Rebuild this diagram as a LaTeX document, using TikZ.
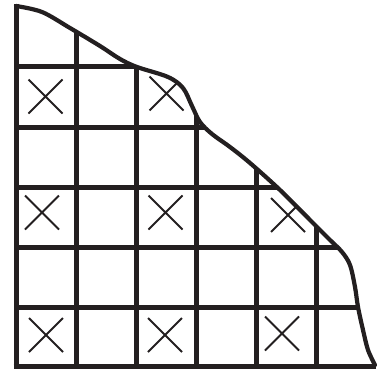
\documentclass[tikz,border=0pt]{standalone}
\definecolor{ink}{HTML}{231F20}
\tikzset{
  gridline/.style={draw=ink, line width=5pt},
  edge/.style={draw=ink, line width=4.2pt, line cap=round, line join=round},
  xmark/.style={draw=ink, line width=2pt},
}
\newcommand{\curvepts}{(16,6) (42,12) (70,28) (100,46) (120,59) (137,67) (168,77) (183,88) (192,106) (200,122) (212,134) (230,147) (250,163) (280,190) (313,223) (330,240) (342,252) (350,265) (355,287) (358,307) (363,330) (368,350) (375,365)}
\newcommand{\xat}[2]{\draw[xmark] (#1-17,#2-17) -- (#1+17,#2+17) (#1-17,#2+17) -- (#1+17,#2-17);}
\begin{document}
\begin{tikzpicture}[x=1pt,y=-1pt]
\useasboundingbox (0,0) rectangle (377,369);
\begin{scope}
  \clip plot[smooth,tension=0.55] coordinates {\curvepts} -- (380,380) -- (0,380) -- (0,0) -- cycle;
  \foreach \x in {76,136,196,256,316} \draw[gridline] (\x,0) -- (\x,366);
  \foreach \y in {66,127,187,247,307} \draw[gridline] (16,\y) -- (377,\y);
  \xat{45.5}{96.5}
  \xat{166.5}{93.5}
  \xat{42}{212.5}
  \xat{165.5}{212.5}
  \xat{288}{215}
  \xat{46}{335}
  \xat{165}{335}
  \xat{282}{333.5}
\end{scope}
\draw[gridline] (16,4) -- (16,368.5);
\draw[gridline] (13.5,366) -- (376,366);
\draw[edge] plot[smooth,tension=0.55] coordinates {\curvepts};
\end{tikzpicture}
\end{document}
